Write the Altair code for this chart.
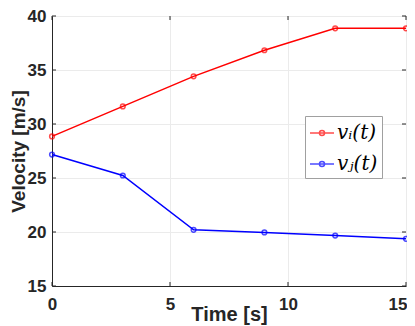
import altair as alt
import pandas as pd

time = [0, 3, 6, 9, 12, 15]
v_i = [28.85, 31.63, 34.41, 36.83, 38.86, 38.86]
v_j = [27.17, 25.23, 20.2, 19.96, 19.67, 19.37]
series = ["vᵢ(t)", "vⱼ(t)"]
colors = ["#ff0000", "#0000ff"]
x_ticks = [0, 5, 10, 15]
y_ticks = [15, 20, 25, 30, 35, 40]

W, H = 354, 270
TL = 4

df = pd.DataFrame({
    "t": time * 2,
    "v": v_i + v_j,
    "s": [series[0]] * len(time) + [series[1]] * len(time),
})

axis_col = "#262626"
sym = "M-1,0L1,0M-0.21,0A0.21,0.21 0 1,1 0.21,0A0.21,0.21 0 1,1 -0.21,0Z"

xs = alt.Scale(domain=[0, 15], nice=False)
ys = alt.Scale(domain=[15, 40], nice=False)

base = alt.Chart(df).encode(
    x=alt.X("t:Q", scale=xs,
            axis=alt.Axis(values=x_ticks, title="Time [s]", labelFont="Liberation Sans",
                          labelFontWeight="bold", labelFontSize=17, labelColor=axis_col,
                          labelPadding=10, tickSize=0, domainColor=axis_col,
                          labelAlign=alt.condition("datum.value == 15", alt.value("right"), alt.value("center")),
                          labelOffset=alt.condition("datum.value == 15", alt.value(1), alt.value(0)),
                          titleFont="Liberation Sans", titleFontSize=20, titleFontWeight="bold",
                          titleColor=axis_col, titleBaseline="middle", titleY=28,
                          gridColor="#ebebeb", labelFlush=False)),
    y=alt.Y("v:Q", scale=ys,
            axis=alt.Axis(values=y_ticks, title="Velocity [m/s]", labelFont="Liberation Sans",
                          labelFontWeight="bold", labelFontSize=17, labelColor=axis_col,
                          labelPadding=6, tickSize=0, domainColor=axis_col,
                          titleFont="Liberation Sans", titleFontSize=19, titleFontWeight="bold",
                          titleColor=axis_col, titleAngle=-90, titleBaseline="middle",
                          titleAlign="center", titleX=-34, titleY=H / 2,
                          gridColor="#ebebeb", labelFlush=False)),
    color=alt.Color("s:N", scale=alt.Scale(domain=series, range=colors),
                    legend=alt.Legend(title=None, orient="none", legendX=253, legendY=100,
                                      fillColor="white", strokeColor="#a0a0a0", padding=4,
                                      symbolType=sym, symbolSize=576, symbolStrokeWidth=1.5,
                                      symbolFillColor="transparent",
                                      labelFont="DejaVu Serif", labelFontStyle="italic",
                                      labelFontSize=20, labelColor="black", rowPadding=8,
                                      labelOffset=2)),
)

lines = base.mark_line(strokeWidth=1.5)
pts = base.mark_point(filled=False, size=22, strokeWidth=1.5)

xt = pd.DataFrame({"t": x_ticks})
yt = pd.DataFrame({"v": y_ticks})
tick_style = dict(color=axis_col, strokeWidth=1)
xb = alt.Chart(xt).mark_rule(**tick_style).encode(
    x=alt.X("t:Q", scale=xs), y=alt.value(H), y2=alt.value(H - TL))
xtp = alt.Chart(xt).mark_rule(**tick_style).encode(
    x=alt.X("t:Q", scale=xs), y=alt.value(0), y2=alt.value(TL))
yl = alt.Chart(yt).mark_rule(**tick_style).encode(
    y=alt.Y("v:Q", scale=ys), x=alt.value(0), x2=alt.value(TL))
yr = alt.Chart(yt).mark_rule(**tick_style).encode(
    y=alt.Y("v:Q", scale=ys), x=alt.value(W), x2=alt.value(W - TL))

chart = (lines + pts + xb + xtp + yl + yr).properties(
    width=W, height=H,
    autosize=alt.AutoSizeParams(type="none"),
    padding={"left": 44, "top": 8, "right": 1, "bottom": 40},
).configure_view(stroke=axis_col, strokeWidth=1).configure(background="white")

chart.save("out.html", embed_options={"renderer": "svg", "actions": False})
